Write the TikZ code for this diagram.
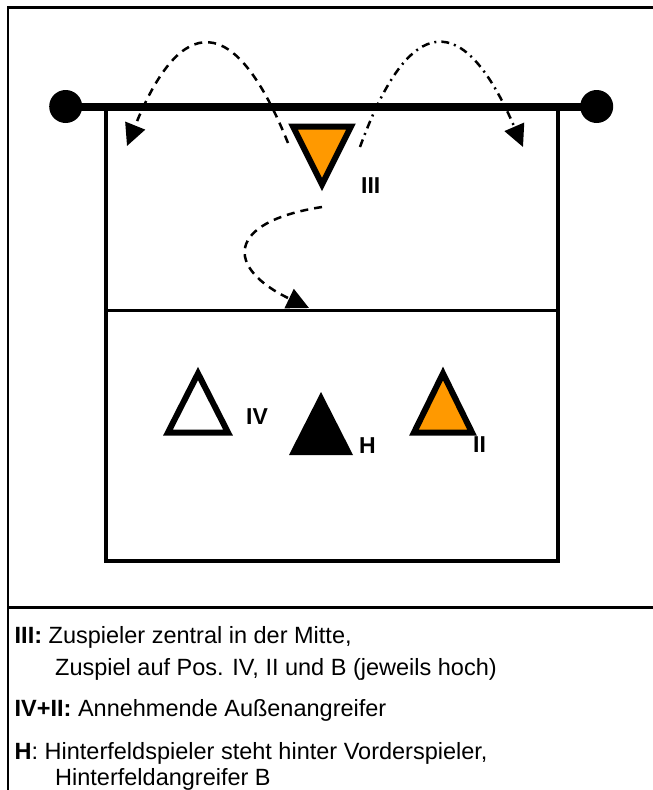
\documentclass[tikz,border=0pt]{standalone}
\usepackage{fontspec}
\setmainfont{Liberation Sans}
\usetikzlibrary{arrows.meta}
\definecolor{playerorange}{HTML}{FF9900}
\begin{document}
\begin{tikzpicture}[x=1pt,y=-1pt,
  frameline/.style={line width=2.5pt},
  netline/.style={line width=8pt},
  courtline/.style={line width=4pt},
  player/.style={line width=6pt, line join=miter},
  headtip/.style={-{Triangle[length=22pt,width=21pt]}},
  pass/.style={headtip, line width=2.5pt, dash pattern=on 8pt off 6pt},
  passalt/.style={headtip, line width=2.5pt, dash pattern=on 8pt off 5pt on 2pt off 5pt},
  tag/.style={font=\fontsize{23}{23}\selectfont\bfseries, inner sep=0pt, anchor=base west},
  legend/.style={font=\fontsize{23.5}{23.5}\selectfont, inner sep=0pt, anchor=base west}]
\useasboundingbox (0,0) rectangle (653,790);
\fill[white] (0,0) rectangle (653,790);

% outer frame and legend separator
\draw[frameline] (8,800) -- (8,7.5) -- (660,7.5);
\draw[line width=3pt] (8,607) -- (660,607);

% court
\draw[courtline] (106,106) -- (106,561) -- (558,561) -- (558,106);
\draw[line width=3pt] (106,310) -- (558,310);

% net with posts
\coordinate (postL) at (65.7,106.5);
\coordinate (postR) at (596.7,106.5);
\draw[netline] (postL) -- (postR);
\fill (postL) circle (16.5);
\fill (postR) circle (16.5);

% players
\filldraw[player, fill=playerorange] (293,126.5) -- (351,126.5) -- (322,184.5) -- cycle;
\draw[player] (198,373.5) -- (228,432.5) -- (168,432.5) -- cycle;
\fill (321,392) -- (353,455) -- (289,455) -- cycle;
\filldraw[player, fill=playerorange] (443,373.5) -- (472,432.5) -- (414,432.5) -- cycle;

\node[tag] (lIII) at (361,193) {III};
\node[tag] (lIV) at (246,424) {IV};
\node[tag] (lH) at (359,453) {H};
\node[tag] (lII) at (473,452) {II};

% passes
\coordinate (sL) at (288,143);
\coordinate (eL) at (127,146);
\coordinate (sR) at (360,147);
\coordinate (eR) at (523,147);
\coordinate (sM) at (322,207);
\coordinate (eM) at (309,308);
\draw[pass] (sL) .. controls (235,11) and (181,12) .. (eL);
\draw[passalt] (sR) .. controls (410,10) and (464,10) .. (eR);
\draw[pass] (sM) .. controls (225,222) and (225,268) .. (eM);

% legend
\node[legend] (t1) at (14.5,643) {\textbf{III:} Zuspieler zentral in der Mitte,};
\node[legend] (t2) at (55,675) {Zuspiel auf Pos. IV, II und B (jeweils hoch)};
\node[legend] (t3) at (14.5,716) {\textbf{IV+II:} Annehmende Außenangreifer};
\node[legend] (t4) at (14.5,759) {\textbf{H}: Hinterfeldspieler steht hinter Vorderspieler,};
\node[legend] (t5) at (55,785) {Hinterfeldangreifer B};
\end{tikzpicture}
\end{document}
